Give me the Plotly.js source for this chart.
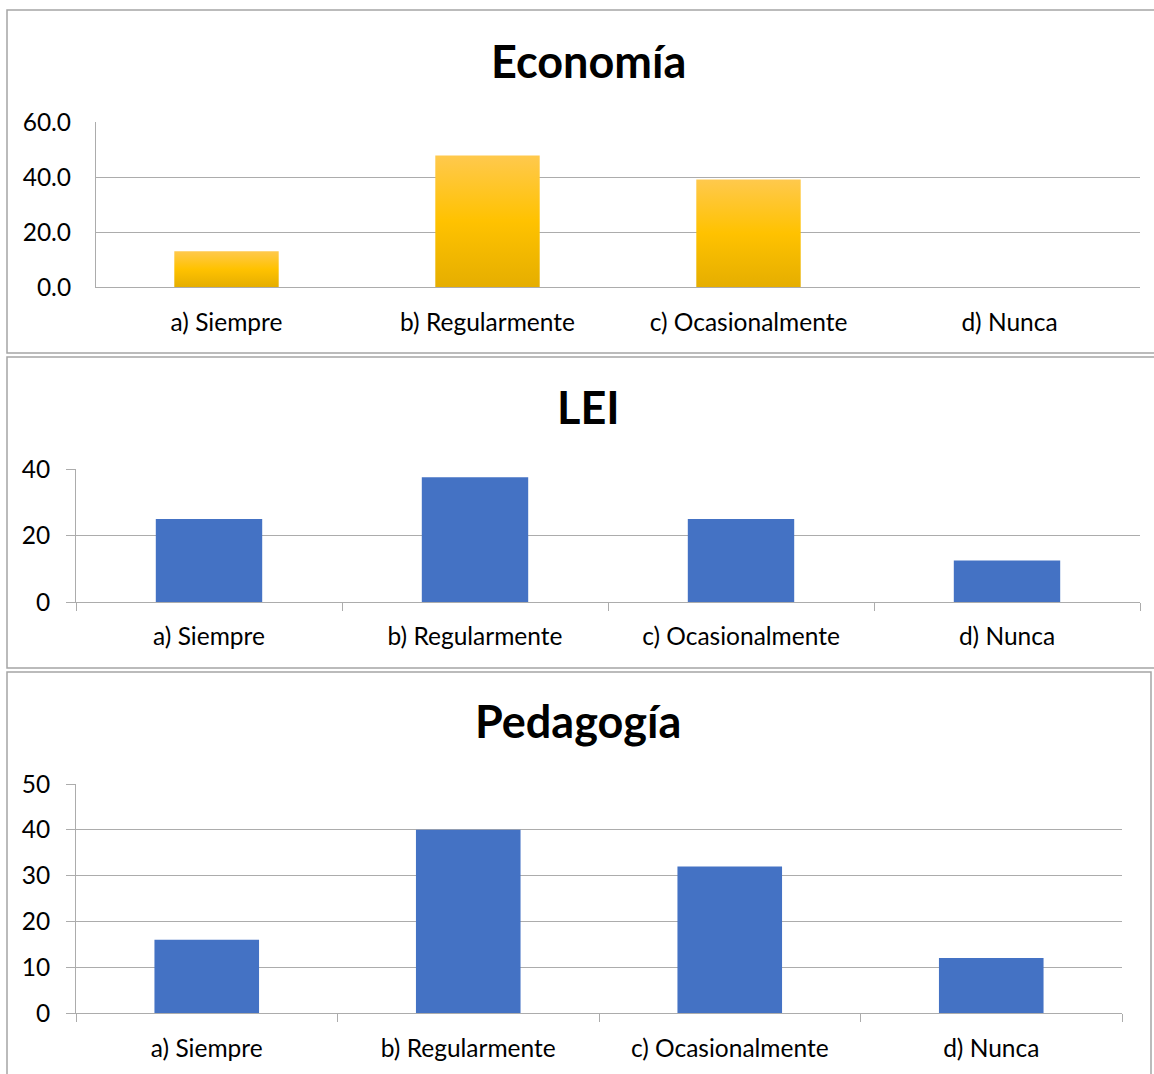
<!DOCTYPE html>
<html>
<head>
<meta charset="utf-8">
<script src="https://cdn.plot.ly/plotly-3.0.1.min.js"></script>
<style>
html,body{margin:0;padding:0;background:#fff;}
#chart{width:1154px;height:1074px;}
</style>
</head>
<body>
<div id="chart"></div>
<script>
const categories = ["a) Siempre", "b) Regularmente", "c) Ocasionalmente", "d) Nunca"];
const titles = ["Economía", "LEI", "Pedagogía"];
const economia = [13.0, 47.8, 39.1, 0];
const lei = [25.0, 37.5, 25.0, 12.5];
const pedagogia = [16, 40, 32, 12];

const W = 1154, H = 1074;
const px = v => v / W;
const py = v => 1 - v / H;

const FONT = "Lato, 'Liberation Sans', sans-serif";
const GRID = "#ACACAC";
const BLUE = "#4472C4";

const traces = [
  {type: "bar", x: categories, y: economia, xaxis: "x", yaxis: "y", width: 0.4,
   marker: {color: "#FFC000", line: {width: 0}}, hoverinfo: "x+y"},
  {type: "bar", x: categories, y: lei, xaxis: "x2", yaxis: "y2", width: 0.4,
   marker: {color: BLUE, line: {width: 0}}, hoverinfo: "x+y"},
  {type: "bar", x: categories, y: pedagogia, xaxis: "x3", yaxis: "y3", width: 0.4,
   marker: {color: BLUE, line: {width: 0}}, hoverinfo: "x+y"}
];

const tickFont = {family: FONT, size: 24.5, color: "#000"};

function xAxis(domain, ticks, anchor, standoff) {
  return {
    domain: domain, anchor: anchor, type: "category",
    showgrid: false, zeroline: false,
    showline: true, linecolor: GRID, linewidth: 1,
    ticks: ticks ? "outside" : "", ticklen: 8, tickcolor: GRID, tickwidth: 1,
    tickson: "boundaries",
    tickfont: tickFont, fixedrange: true,
    ticklabelstandoff: standoff
  };
}
function yAxis(domain, range, dtick, fmt, ticks, anchor, standoff) {
  return {
    domain: domain, anchor: anchor, range: range, dtick: dtick, tickformat: fmt,
    showgrid: true, gridcolor: GRID, gridwidth: 1, zeroline: false,
    showline: true, linecolor: GRID, linewidth: 1,
    ticks: ticks ? "outside" : "", ticklen: 9, tickcolor: GRID, tickwidth: 1,
    tickfont: tickFont, fixedrange: true,
    ticklabelstandoff: standoff
  };
}

const layout = {
  width: W, height: H,
  margin: {l: 0, r: 0, t: 0, b: 0},
  paper_bgcolor: "#fff", plot_bgcolor: "rgba(0,0,0,0)",
  showlegend: false,
  font: {family: FONT, color: "#000"},
  xaxis: xAxis([px(96), px(1140)], false, "y", 14),
  yaxis: yAxis([py(287), py(122)], [0, 60], 20, ".1f", false, "x", 19),
  xaxis2: xAxis([px(76), px(1140)], true, "y2", 13),
  yaxis2: yAxis([py(602), py(469)], [0, 40], 20, "d", true, "x2", 11),
  xaxis3: xAxis([px(76), px(1122)], true, "y3", 14),
  yaxis3: yAxis([py(1013), py(784)], [0, 50], 10, "d", true, "x3", 11),
  shapes: [
    {type: "rect", xref: "paper", yref: "paper", x0: px(7), x1: px(1170), y0: py(10), y1: py(353),
     line: {color: "#A5A5A5", width: 1.5}, fillcolor: "rgba(0,0,0,0)"},
    {type: "rect", xref: "paper", yref: "paper", x0: px(7), x1: px(1170), y0: py(357), y1: py(668),
     line: {color: "#A5A5A5", width: 1.5}, fillcolor: "rgba(0,0,0,0)"},
    {type: "rect", xref: "paper", yref: "paper", x0: px(7), x1: px(1151), y0: py(672), y1: py(1090),
     line: {color: "#A5A5A5", width: 1.5}, fillcolor: "rgba(0,0,0,0)"}
  ],
  annotations: [
    {text: "<b>" + titles[0] + "</b>", xref: "paper", yref: "paper", x: px(588), y: py(61),
     xanchor: "center", yanchor: "middle", showarrow: false, font: {family: FONT, size: 45, color: "#000"}},
    {text: "<b>" + titles[1] + "</b>", xref: "paper", yref: "paper", x: px(588), y: py(407),
     xanchor: "center", yanchor: "middle", showarrow: false, font: {family: FONT, size: 45, color: "#000"}},
    {text: "<b>" + titles[2] + "</b>", xref: "paper", yref: "paper", x: px(578), y: py(721),
     xanchor: "center", yanchor: "middle", showarrow: false, font: {family: FONT, size: 45, color: "#000"}}
  ]
};

Plotly.newPlot("chart", traces, layout, {displayModeBar: false, staticPlot: true}).then(gd => {
  const svg = gd.querySelector("svg.main-svg");
  let defs = svg.querySelector("defs");
  const NS = "http://www.w3.org/2000/svg";
  if (!defs) { defs = document.createElementNS(NS, "defs"); svg.insertBefore(defs, svg.firstChild); }
  const lg = document.createElementNS(NS, "linearGradient");
  lg.setAttribute("id", "goldGrad");
  lg.setAttribute("x1", "0"); lg.setAttribute("y1", "0");
  lg.setAttribute("x2", "0"); lg.setAttribute("y2", "1");
  [["0", "#FFC94D"], ["0.5", "#FFC200"], ["1", "#E5AE00"]].forEach(([o, c]) => {
    const s = document.createElementNS(NS, "stop");
    s.setAttribute("offset", o); s.setAttribute("stop-color", c);
    lg.appendChild(s);
  });
  defs.appendChild(lg);
  const traceGroups = gd.querySelectorAll("g.trace.bars");
  if (traceGroups.length) {
    traceGroups[0].querySelectorAll("path").forEach(p => { p.style.fill = "url(#goldGrad)"; });
  }
});
</script>
</body>
</html>
